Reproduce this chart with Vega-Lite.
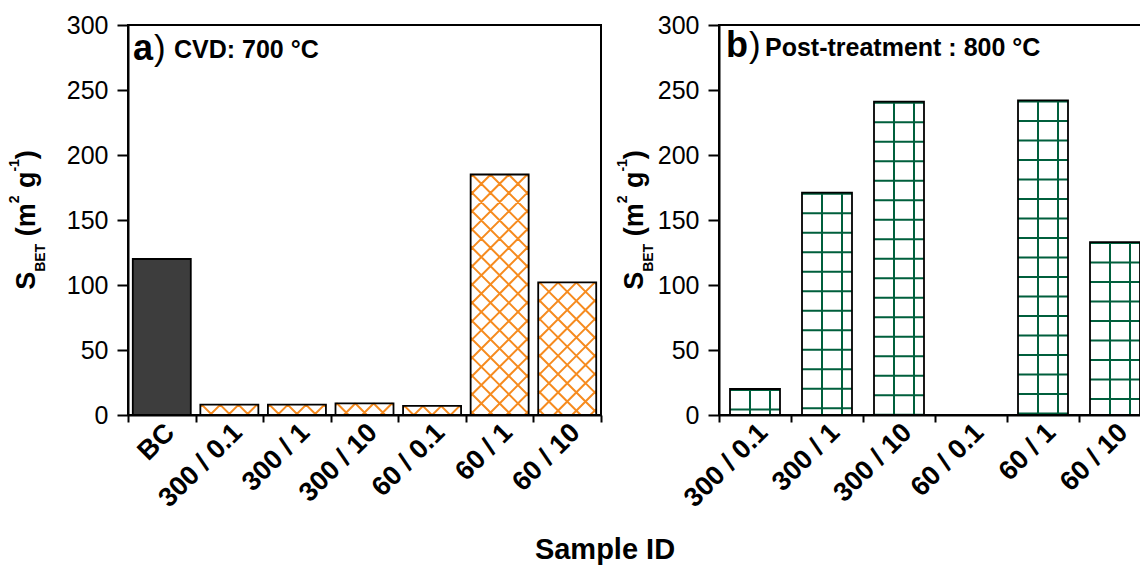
{
  "$schema": "https://vega.github.io/schema/vega-lite/v6.json",
  "background": "white",
  "padding": {"left": 6, "top": 12, "right": -12, "bottom": 2},
  "spacing": 11,
  "title": {
    "text": "Sample ID",
    "orient": "bottom",
    "anchor": "middle",
    "font": "Liberation Sans",
    "fontSize": 29,
    "fontWeight": "bold",
    "color": "black",
    "offset": 24,
    "dx": 25
  },
  "resolve": {"scale": {"x": "independent", "y": "independent"}},
  "hconcat": [
    {
      "width": 473,
      "height": 390,
      "data": {
        "values": [
          {"id": "BC", "s": 120},
          {"id": "300 / 0.1", "s": 8},
          {"id": "300 / 1", "s": 8},
          {"id": "300 / 10", "s": 9},
          {"id": "60 / 0.1", "s": 7},
          {"id": "60 / 1", "s": 185},
          {"id": "60 / 10", "s": 102}
        ]
      },
      "layer": [
        {
          "mark": {"type": "bar", "width": {"band": 0.8584}, "strokeWidth": 0},
          "encoding": {
            "x": {
              "field": "id", "type": "nominal", "sort": null,
              "scale": {"domain": ["BC", "300 / 0.1", "300 / 1", "300 / 10", "60 / 0.1", "60 / 1", "60 / 10"], "paddingInner": 0, "paddingOuter": 0},
              "axis": {"title": null, "labelFontSize": 27, "labelFontWeight": "bold", "labelAngle": -45, "labelAlign": "right", "labelBaseline": "middle", "labelPadding": 6, "labelOffset": 8, "tickBand": "extent", "tickSize": 7}
            },
            "y": {
              "field": "s", "type": "quantitative",
              "scale": {"domain": [0, 300], "nice": false},
              "axis": {
                "title": null,
                "labelFontSize": 25,
                "labelPadding": 9,
                "values": [0, 25, 50, 75, 100, 125, 150, 175, 200, 225, 250, 275, 300],
                "labelExpr": "datum.value % 50 === 0 ? datum.label : ''",
                "tickSize": {"condition": {"test": "datum.value % 50 !== 0", "value": 6}, "value": 11}
              }
            },
            "fill": {"condition": {"test": "datum.id === 'BC'", "value": "#3d3d3d"}, "value": "white"}
          }
        },
        {
          "transform": [{"filter": "datum.id !== 'BC'"}],
          "mark": {"type": "point", "filled": false, "size": 4, "stroke": "#f68b1f", "strokeWidth": 2, "opacity": 1},
          "encoding": {
            "x": {"field": "id", "type": "nominal"},
            "y": {"field": "s", "type": "quantitative"},
            "shape": {
              "condition": [
                {"test": "datum.id === '300 / 10'", "value": "M-27.3 0L-29 1.7M-9 0L-20.7 11.7M9.3 0L-2.4 11.7M27.6 0L15.9 11.7M27.3 0L29 1.7M9 0L20.7 11.7M-9.3 0L2.4 11.7M-27.6 0L-15.9 11.7"},
                {"test": "datum.id === '60 / 0.1'", "value": "M-27.3 0L-29 1.7M-9 0L-18.1 9.1M9.3 0L0.2 9.1M27.6 0L18.5 9.1M27.3 0L29 1.7M9 0L18.1 9.1M-9.3 0L-0.2 9.1M-27.6 0L-18.5 9.1"},
                {"test": "datum.id === '60 / 1'", "value": "M-27.3 0L-29 1.7M-9 0L-29 20M9.3 0L-29 38.3M27.6 0L-29 56.6M29 16.9L-29 74.9M29 35.2L-29 93.2M29 53.5L-29 111.5M29 71.8L-29 129.8M29 90.1L-29 148.1M29 108.4L-29 166.4M29 126.7L-29 184.7M29 145L-29 203M29 163.3L-29 221.3M29 181.6L-29 239.6M29 199.9L-11.6 240.5M29 218.2L6.7 240.5M29 236.5L25 240.5M27.3 0L29 1.7M9 0L29 20M-9.3 0L29 38.3M-27.6 0L29 56.6M-29 16.9L29 74.9M-29 35.2L29 93.2M-29 53.5L29 111.5M-29 71.8L29 129.8M-29 90.1L29 148.1M-29 108.4L29 166.4M-29 126.7L29 184.7M-29 145L29 203M-29 163.3L29 221.3M-29 181.6L29 239.6M-29 199.9L11.6 240.5M-29 218.2L-6.7 240.5M-29 236.5L-25 240.5"},
                {"test": "datum.id === '60 / 10'", "value": "M-27.3 0L-29 1.7M-9 0L-29 20M9.3 0L-29 38.3M27.6 0L-29 56.6M29 16.9L-29 74.9M29 35.2L-29 93.2M29 53.5L-29 111.5M29 71.8L-29 129.8M29 90.1L-13.5 132.6M29 108.4L4.8 132.6M29 126.7L23.1 132.6M27.3 0L29 1.7M9 0L29 20M-9.3 0L29 38.3M-27.6 0L29 56.6M-29 16.9L29 74.9M-29 35.2L29 93.2M-29 53.5L29 111.5M-29 71.8L29 129.8M-29 90.1L13.5 132.6M-29 108.4L-4.8 132.6M-29 126.7L-23.1 132.6"}
              ],
              "value": "M-27.3 0L-29 1.7M-9 0L-19.4 10.4M9.3 0L-1.1 10.4M27.6 0L17.2 10.4M27.3 0L29 1.7M9 0L19.4 10.4M-9.3 0L1.1 10.4M-27.6 0L-17.2 10.4"
            }
          }
        },
        {
          "mark": {"type": "bar", "width": {"band": 0.8584}, "fill": "transparent", "stroke": "black", "strokeWidth": 1.8},
          "encoding": {
            "x": {"field": "id", "type": "nominal"},
            "y": {"field": "s", "type": "quantitative"}
          }
        },
        {
          "data": {"values": [{"t": "a"}]},
          "mark": {"type": "text", "fontWeight": "bold", "fontSize": 36, "align": "left", "baseline": "alphabetic", "dx": 5, "dy": 35},
          "encoding": {"x": {"datum": "BC", "bandPosition": 0}, "y": {"datum": 300}, "text": {"field": "t"}}
        },
        {
          "data": {"values": [{"t": ")"}]},
          "mark": {"type": "text", "fontWeight": "normal", "fontSize": 35, "align": "left", "baseline": "alphabetic", "dx": 26, "dy": 35},
          "encoding": {"x": {"datum": "BC", "bandPosition": 0}, "y": {"datum": 300}, "text": {"field": "t"}}
        },
        {
          "data": {"values": [{"t": "CVD: 700 °C"}]},
          "mark": {"type": "text", "fontWeight": "bold", "fontSize": 25, "align": "left", "baseline": "alphabetic", "dx": 46, "dy": 33},
          "encoding": {"x": {"datum": "BC", "bandPosition": 0}, "y": {"datum": 300}, "text": {"field": "t"}}
        },
        {
          "data": {"values": [{"t": "S"}]},
          "mark": {"type": "text", "fontWeight": "bold", "fontSize": 27, "angle": 270, "align": "left", "baseline": "alphabetic", "dx": -69.85, "dy": -93},
          "encoding": {"x": {"datum": "BC", "bandPosition": 0}, "y": {"datum": 150}, "text": {"field": "t"}}
        },
        {
          "data": {"values": [{"t": "BET"}]},
          "mark": {"type": "text", "fontWeight": "bold", "fontSize": 14, "angle": 270, "align": "left", "baseline": "alphabetic", "dx": -51.85, "dy": -83},
          "encoding": {"x": {"datum": "BC", "bandPosition": 0}, "y": {"datum": 150}, "text": {"field": "t"}}
        },
        {
          "data": {"values": [{"t": "(m"}]},
          "mark": {"type": "text", "fontWeight": "bold", "fontSize": 27, "angle": 270, "align": "left", "baseline": "alphabetic", "dx": -16.35, "dy": -93},
          "encoding": {"x": {"datum": "BC", "bandPosition": 0}, "y": {"datum": 150}, "text": {"field": "t"}}
        },
        {
          "data": {"values": [{"t": "2"}]},
          "mark": {"type": "text", "fontWeight": "bold", "fontSize": 14, "angle": 270, "align": "left", "baseline": "alphabetic", "dx": 16.65, "dy": -109},
          "encoding": {"x": {"datum": "BC", "bandPosition": 0}, "y": {"datum": 150}, "text": {"field": "t"}}
        },
        {
          "data": {"values": [{"t": "g"}]},
          "mark": {"type": "text", "fontWeight": "bold", "fontSize": 27, "angle": 270, "align": "left", "baseline": "alphabetic", "dx": 31.95, "dy": -93},
          "encoding": {"x": {"datum": "BC", "bandPosition": 0}, "y": {"datum": 150}, "text": {"field": "t"}}
        },
        {
          "data": {"values": [{"t": "-1"}]},
          "mark": {"type": "text", "fontWeight": "bold", "fontSize": 14, "angle": 270, "align": "left", "baseline": "alphabetic", "dx": 48.45, "dy": -109},
          "encoding": {"x": {"datum": "BC", "bandPosition": 0}, "y": {"datum": 150}, "text": {"field": "t"}}
        },
        {
          "data": {"values": [{"t": ")"}]},
          "mark": {"type": "text", "fontWeight": "bold", "fontSize": 27, "angle": 270, "align": "left", "baseline": "alphabetic", "dx": 60.85, "dy": -93},
          "encoding": {"x": {"datum": "BC", "bandPosition": 0}, "y": {"datum": 150}, "text": {"field": "t"}}
        }
      ]
    },
    {
      "width": 432,
      "height": 390,
      "data": {
        "values": [
          {"id": "300 / 0.1", "s": 20},
          {"id": "300 / 1", "s": 171},
          {"id": "300 / 10", "s": 241},
          {"id": "60 / 0.1", "s": 0},
          {"id": "60 / 1", "s": 242},
          {"id": "60 / 10", "s": 133}
        ]
      },
      "layer": [
        {
          "transform": [{"filter": "datum.s > 0"}],
          "mark": {"type": "rule", "stroke": "#005f3c", "strokeWidth": 50, "strokeDash": [2, 17.5], "strokeCap": "butt"},
          "encoding": {
            "x": {
              "field": "id", "type": "nominal", "sort": null,
              "scale": {"domain": ["300 / 0.1", "300 / 1", "300 / 10", "60 / 0.1", "60 / 1", "60 / 10"], "paddingInner": 0, "paddingOuter": 0},
              "axis": {"title": null, "labelFontSize": 27, "labelFontWeight": "bold", "labelAngle": -45, "labelAlign": "right", "labelBaseline": "middle", "labelPadding": 6, "labelOffset": 8, "tickBand": "extent", "tickSize": 7}
            },
            "y": {
              "field": "s", "type": "quantitative",
              "scale": {"domain": [0, 300], "nice": false},
              "axis": {
                "title": null,
                "labelFontSize": 25,
                "labelPadding": 9,
                "values": [0, 25, 50, 75, 100, 125, 150, 175, 200, 225, 250, 275, 300],
                "labelExpr": "datum.value % 50 === 0 ? datum.label : ''",
                "tickSize": {"condition": {"test": "datum.value % 50 !== 0", "value": 6}, "value": 11}
              }
            },
            "y2": {"datum": 0}
          }
        },
        {
          "transform": [{"filter": "datum.s > 0"}],
          "mark": {"type": "rule", "stroke": "#005f3c", "strokeWidth": 2, "xOffset": -5},
          "encoding": {
            "x": {"field": "id", "type": "nominal"},
            "y": {"field": "s", "type": "quantitative"},
            "y2": {"datum": 0}
          }
        },
        {
          "transform": [{"filter": "datum.s > 0"}],
          "mark": {"type": "rule", "stroke": "#005f3c", "strokeWidth": 2, "xOffset": 15},
          "encoding": {
            "x": {"field": "id", "type": "nominal"},
            "y": {"field": "s", "type": "quantitative"},
            "y2": {"datum": 0}
          }
        },
        {
          "transform": [{"filter": "datum.s > 0"}],
          "mark": {"type": "bar", "width": {"band": 0.6944}, "fill": "transparent", "stroke": "black", "strokeWidth": 1.8},
          "encoding": {
            "x": {"field": "id", "type": "nominal"},
            "y": {"field": "s", "type": "quantitative"}
          }
        },
        {
          "data": {"values": [{"t": "b"}]},
          "mark": {"type": "text", "fontWeight": "bold", "fontSize": 36, "align": "left", "baseline": "alphabetic", "dx": 7, "dy": 32},
          "encoding": {"x": {"datum": "300 / 0.1", "bandPosition": 0}, "y": {"datum": 300}, "text": {"field": "t"}}
        },
        {
          "data": {"values": [{"t": ")"}]},
          "mark": {"type": "text", "fontWeight": "normal", "fontSize": 35, "align": "left", "baseline": "alphabetic", "dx": 30, "dy": 32},
          "encoding": {"x": {"datum": "300 / 0.1", "bandPosition": 0}, "y": {"datum": 300}, "text": {"field": "t"}}
        },
        {
          "data": {"values": [{"t": "Post-treatment : 800 °C"}]},
          "mark": {"type": "text", "fontWeight": "bold", "fontSize": 25, "align": "left", "baseline": "alphabetic", "dx": 46, "dy": 31},
          "encoding": {"x": {"datum": "300 / 0.1", "bandPosition": 0}, "y": {"datum": 300}, "text": {"field": "t"}}
        },
        {
          "data": {"values": [{"t": "S"}]},
          "mark": {"type": "text", "fontWeight": "bold", "fontSize": 27, "angle": 270, "align": "left", "baseline": "alphabetic", "dx": -69.85, "dy": -76},
          "encoding": {"x": {"datum": "300 / 0.1", "bandPosition": 0}, "y": {"datum": 150}, "text": {"field": "t"}}
        },
        {
          "data": {"values": [{"t": "BET"}]},
          "mark": {"type": "text", "fontWeight": "bold", "fontSize": 14, "angle": 270, "align": "left", "baseline": "alphabetic", "dx": -51.85, "dy": -66},
          "encoding": {"x": {"datum": "300 / 0.1", "bandPosition": 0}, "y": {"datum": 150}, "text": {"field": "t"}}
        },
        {
          "data": {"values": [{"t": "(m"}]},
          "mark": {"type": "text", "fontWeight": "bold", "fontSize": 27, "angle": 270, "align": "left", "baseline": "alphabetic", "dx": -16.35, "dy": -76},
          "encoding": {"x": {"datum": "300 / 0.1", "bandPosition": 0}, "y": {"datum": 150}, "text": {"field": "t"}}
        },
        {
          "data": {"values": [{"t": "2"}]},
          "mark": {"type": "text", "fontWeight": "bold", "fontSize": 14, "angle": 270, "align": "left", "baseline": "alphabetic", "dx": 16.65, "dy": -92},
          "encoding": {"x": {"datum": "300 / 0.1", "bandPosition": 0}, "y": {"datum": 150}, "text": {"field": "t"}}
        },
        {
          "data": {"values": [{"t": "g"}]},
          "mark": {"type": "text", "fontWeight": "bold", "fontSize": 27, "angle": 270, "align": "left", "baseline": "alphabetic", "dx": 31.95, "dy": -76},
          "encoding": {"x": {"datum": "300 / 0.1", "bandPosition": 0}, "y": {"datum": 150}, "text": {"field": "t"}}
        },
        {
          "data": {"values": [{"t": "-1"}]},
          "mark": {"type": "text", "fontWeight": "bold", "fontSize": 14, "angle": 270, "align": "left", "baseline": "alphabetic", "dx": 48.45, "dy": -92},
          "encoding": {"x": {"datum": "300 / 0.1", "bandPosition": 0}, "y": {"datum": 150}, "text": {"field": "t"}}
        },
        {
          "data": {"values": [{"t": ")"}]},
          "mark": {"type": "text", "fontWeight": "bold", "fontSize": 27, "angle": 270, "align": "left", "baseline": "alphabetic", "dx": 60.85, "dy": -76},
          "encoding": {"x": {"datum": "300 / 0.1", "bandPosition": 0}, "y": {"datum": 150}, "text": {"field": "t"}}
        }
      ]
    }
  ],
  "config": {
    "font": "Liberation Sans",
    "view": {"stroke": "black", "strokeWidth": 2},
    "text": {"color": "black", "font": "Liberation Sans"},
    "axis": {
      "domainColor": "black",
      "domainWidth": 2,
      "tickColor": "black",
      "tickWidth": 2,
      "labelColor": "black",
      "labelFont": "Liberation Sans",
      "grid": false
    }
  }
}
